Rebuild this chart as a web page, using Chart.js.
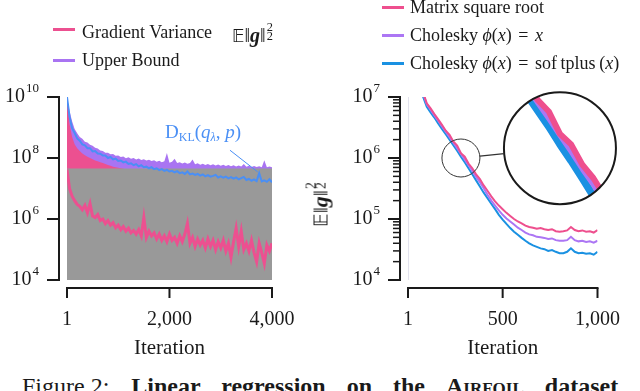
<!DOCTYPE html>
<html>
<head>
<meta charset="utf-8">
<script src="https://cdn.jsdelivr.net/npm/chart.js"></script>
<style>
  body { margin: 0; background: #fff; width: 640px; height: 391px; overflow: hidden; position: relative;
         font-family: 'Liberation Serif', 'DejaVu Serif', serif; color: #1a1a1a; }
  canvas { position: absolute; top: 0; }
  #left { left: 0; }
  #right { left: 320px; }
  .lg { position: absolute; font-size: 18px; line-height: 18px; white-space: nowrap; }
  .sw { position: absolute; width: 22px; height: 3px; }
  .ss { position: relative; display: inline-block; width: 0.5em; height: 1em; }
  .ss .up, .ss .dn { position: absolute; left: 0.08em; font-size: 0.62em; line-height: 1; }
  .ss .up { top: -0.08em; }
  .ss .dn { top: 0.68em; }
  .bb { font-family: 'DejaVu Sans', sans-serif; font-size: 0.85em; }
  .eq { margin: 0 2px; }
  #dkl { position: absolute; left: 165px; top: 121px; font-size: 19px; color: #4a8ff5; white-space: nowrap; }
  #ytitle { position: absolute; left: 319px; top: 203px; font-size: 22px; line-height: 22px; white-space: nowrap;
            transform: translate(-50%, -50%) rotate(-90deg); }
  #cap { position: absolute; left: 22px; top: 373px; font-size: 24px; white-space: nowrap; }
  #cap b { word-spacing: 15px; margin-left: 22px; }
</style>
</head>
<body>
<canvas id="left" width="320" height="365"></canvas>
<canvas id="right" width="320" height="365"></canvas>

<div class="sw" style="left:53px;top:28px;background:#ec5090"></div>
<div class="lg" style="left:82px;top:23px">Gradient Variance</div>
<div class="lg" style="left:232px;top:22px;font-size:20px"><span class="bb">𝔼</span>‖<b><i>g</i></b>‖<span class="ss"><span class="up">2</span><span class="dn">2</span></span></div>
<div class="sw" style="left:53px;top:59px;background:#a974f2"></div>
<div class="lg" style="left:82px;top:51px">Upper Bound</div>

<div class="sw" style="left:382px;top:6px;background:#ee4f8e"></div>
<div class="lg" style="left:410px;top:-2px">Matrix square root</div>
<div class="sw" style="left:382px;top:34px;background:#ac76f4"></div>
<div class="lg" style="left:410px;top:26px">Cholesky <i>ϕ</i>(<i>x</i>) <span class="eq">=</span> <i>x</i></div>
<div class="sw" style="left:382px;top:62px;background:#1a91e2"></div>
<div class="lg" style="left:410px;top:54px">Cholesky <i>ϕ</i>(<i>x</i>) <span class="eq">=</span> sof&thinsp;tplus&thinsp;(<i>x</i>)</div>

<div id="dkl">D<span style="font-size:12px;vertical-align:-3px">KL</span>(<i>q</i><span style="font-size:12px;vertical-align:-3px"><i>λ</i></span>, <i>p</i>)</div>
<div id="ytitle"><span class="bb">𝔼</span>‖<b><i>g</i></b>‖<span class="ss"><span class="up">2</span><span class="dn">2</span></span></div>
<div id="cap">Figure 2:<b>Linear regression on the <span style="font-variant:small-caps">Airfoil</span> dataset</b></div>

<script>
// ---------- left panel: gradient variance vs. iteration ----------
const iterLeft = [
  1, 50, 100, 150, 200, 250, 300, 350, 400, 450,
  500, 550, 600, 650, 700, 750, 800, 850, 900, 950,
  1000, 1050, 1100, 1150, 1200, 1250, 1300, 1350, 1400, 1450,
  1500, 1550, 1600, 1650, 1700, 1750, 1800, 1850, 1900, 1950,
  2000, 2050, 2100, 2150, 2200, 2250, 2300, 2350, 2400, 2450,
  2500, 2550, 2600, 2650, 2700, 2750, 2800, 2850, 2900, 2950,
  3000, 3050, 3100, 3150, 3200, 3250, 3300, 3350, 3400, 3450,
  3500, 3550, 3600, 3650, 3700, 3750, 3800, 3850, 3900, 3950,
  4000
];
const upperBound = [
  1e10, 3.5e9, 1.6e9, 9.0e8, 6.5e8, 4.9e8, 4.3e8, 3.4e8, 3.2e8, 2.7e8,
  2.5e8, 2.15e8, 2.05e8, 1.75e8, 1.7e8, 1.5e8, 1.5e8, 1.32e8, 1.35e8, 1.18e8,
  1.2e8, 1.08e8, 1.12e8, 9.9e7, 1.05e8, 9.4e7, 1.0e8, 9.0e7, 9.6e7, 8.6e7,
  9.1e7, 8.3e7, 8.8e7, 7.9e7, 8.4e7, 7.6e7, 8.1e7, 7.3e7, 7.8e7, 1.45e8,
  7.0e7, 7.5e7, 9.5e7, 6.8e7, 7.2e7, 6.6e7, 7.1e7, 6.5e7, 6.9e7, 9.0e7,
  6.2e7, 6.7e7, 6.0e7, 6.5e7, 5.9e7, 6.3e7, 5.8e7, 6.2e7, 5.7e7, 6.1e7,
  5.6e7, 6.0e7, 5.5e7, 5.9e7, 5.4e7, 5.8e7, 5.3e7, 5.7e7, 5.3e7, 6.4e7,
  5.2e7, 5.6e7, 5.1e7, 5.5e7, 5.1e7, 5.4e7, 5.0e7, 8.5e7, 5.0e7, 5.3e7,
  5.0e7
];
const gradVarTop = [
  1e10, 1.3e9, 5.0e8, 2.8e8, 2.1e8, 1.7e8, 1.4e8, 1.23e8, 1.1e8, 1.0e8,
  9.1e7, 8.3e7, 7.8e7, 7.2e7, 6.8e7, 6.3e7, 5.9e7, 5.6e7, 5.2e7, 5.0e7,
  4.8e7, 4.6e7, 4.4e7, 4.2e7, 4.0e7, 3.9e7, 3.8e7, 3.7e7, 3.6e7, 3.5e7,
  3.4e7, 3.3e7, 3.2e7, 3.1e7, 3.0e7, 2.95e7, 2.9e7, 2.85e7, 2.8e7, 2.75e7,
  2.7e7, 2.65e7, 2.6e7, 2.55e7, 2.5e7, 2.45e7, 2.4e7, 2.35e7, 2.3e7, 2.25e7,
  2.2e7, 2.18e7, 2.15e7, 2.12e7, 2.1e7, 2.08e7, 2.05e7, 2.02e7, 2.0e7, 1.98e7,
  1.95e7, 1.92e7, 1.9e7, 1.88e7, 1.85e7, 1.82e7, 1.8e7, 1.78e7, 1.75e7, 1.72e7,
  1.7e7, 1.68e7, 1.65e7, 1.63e7, 1.6e7, 1.58e7, 1.55e7, 1.53e7, 1.5e7, 1.48e7,
  1.45e7
];
const gradVarLow = [
  4.2e7, 1e7, 5.6e6, 4.0e6, 3.0e6, 2.6e6, 2.0e6, 2.8e6, 1.6e6, 3.2e6,
  1.26e6, 1.12e6, 1.4e6, 8.9e5, 1e6, 7.1e5, 8.9e5, 6.3e5, 7.6e5, 5.2e5,
  6.3e5, 4.5e5, 5.6e5, 4.0e5, 5.0e5, 3.5e5, 4.2e5, 3.2e5, 4.5e5, 2.8e5,
  1.12e6, 2.5e5, 4.0e5, 2.8e5, 3.5e5, 2.2e5, 3.2e5, 2.0e5, 2.8e5, 1.8e5,
  3.2e5, 2.0e5, 2.5e5, 1.6e5, 2.8e5, 1.8e5, 3.2e5, 7.1e5, 1.6e5, 2.5e5,
  1.26e5, 2.2e5, 1.4e5, 2.0e5, 1.12e5, 2.2e5, 1.26e5, 2.0e5, 1e5, 1.8e5,
  1.12e5, 2.0e5, 8.9e4, 1.6e5, 5.6e4, 1.8e5, 5.0e5, 1.26e5, 4.0e5, 1e5,
  1.6e5, 8.9e4, 2.0e5, 7.9e4, 4.0e4, 1.6e5, 7.9e4, 3.5e4, 1.4e5, 8.9e4,
  1.6e5
];
const klDiv = [
  1e10, 2.3e9, 9.5e8, 6.6e8, 4.4e8, 3.7e8, 2.8e8, 2.6e8, 2.1e8, 2.1e8,
  1.65e8, 1.7e8, 1.4e8, 1.38e8, 1.2e8, 1.2e8, 1.0e8, 1.08e8, 9.0e7, 9.6e7,
  8.0e7, 8.3e7, 7.2e7, 7.6e7, 6.4e7, 6.7e7, 5.8e7, 6.3e7, 5.3e7, 5.8e7,
  5.0e7, 5.2e7, 4.6e7, 5.0e7, 4.3e7, 4.6e7, 4.0e7, 4.3e7, 3.8e7, 4.1e7,
  3.6e7, 3.8e7, 3.4e7, 3.7e7, 3.2e7, 3.4e7, 3.0e7, 3.6e7, 2.9e7, 3.1e7,
  2.8e7, 3.0e7, 2.65e7, 2.9e7, 2.5e7, 2.75e7, 2.45e7, 2.6e7, 2.8e7, 2.3e7,
  2.5e7, 2.25e7, 2.45e7, 2.15e7, 2.35e7, 2.1e7, 2.3e7, 2.0e7, 2.2e7, 2.4e7,
  1.9e7, 2.05e7, 1.8e7, 2.0e7, 1.75e7, 3.2e7, 1.7e7, 1.85e7, 1.65e7, 2.0e7,
  1.6e7
];
const grayIter = [1, 4000];
const grayLevel = [4.5e7, 4.5e7];

const leftXTicks = [1, 2000, 4000];
const leftXLabels = ['1', '2,000', '4,000'];
const leftYTicks = [1e4, 1e6, 1e8, 1e10];
const leftYExp = ['4', '6', '8', '10'];

// ---------- right panel: three parametrisations ----------
const iterRight = [
  1, 20, 40, 60, 80, 100, 120, 140, 160, 180,
  200, 220, 240, 260, 280, 300, 320, 340, 360, 380,
  400, 420, 440, 460, 480, 500, 520, 540, 560, 580,
  600, 620, 640, 660, 680, 700, 720, 740, 760, 780,
  800, 820, 840, 860, 880, 900, 920, 940, 960, 980,
  1000
];
const matrixSqrt = [
  1e9, 1.6e8, 5e7, 2.24e7, 1.2e7, 7.9e6, 6.5e6, 5.25e6, 4.3e6, 3.5e6,
  2.8e6, 2.4e6, 1.86e6, 1.6e6, 1.2e6, 1.05e6, 8.1e5, 6.8e5, 5.4e5, 4.5e5,
  3.55e5, 2.9e5, 2.35e5, 1.95e5, 1.66e5, 1.45e5, 1.26e5, 1.12e5, 1.0e5, 9.1e4,
  8.5e4, 7.8e4, 7.4e4, 7.2e4, 6.9e4, 7.1e4, 6.8e4, 6.6e4, 6.8e4, 6.3e4,
  6.2e4, 6.3e4, 6.5e4, 7.4e4, 6.6e4, 6.3e4, 6.5e4, 6.2e4, 6.3e4, 6.0e4,
  6.6e4
];
const choleskyLinear = [
  1e9, 1.5e8, 4.8e7, 2.1e7, 1.15e7, 7.6e6, 6.2e6, 5.0e6, 4.1e6, 3.3e6,
  2.7e6, 2.2e6, 1.78e6, 1.45e6, 1.17e6, 9.5e5, 7.6e5, 6.2e5, 4.9e5, 4.0e5,
  3.2e5, 2.5e5, 2.0e5, 1.66e5, 1.38e5, 1.17e5, 1.02e5, 9.1e4, 8.1e4, 7.2e4,
  6.6e4, 6.0e4, 5.6e4, 5.4e4, 5.1e4, 5.0e4, 4.9e4, 4.7e4, 4.8e4, 4.5e4,
  4.4e4, 4.4e4, 4.5e4, 5.1e4, 4.5e4, 4.3e4, 4.4e4, 4.2e4, 4.3e4, 4.1e4,
  4.4e4
];
const choleskySoftplus = [
  1e9, 1.4e8, 4.4e7, 1.95e7, 1.02e7, 6.9e6, 5.6e6, 4.6e6, 3.7e6, 3.0e6,
  2.45e6, 2.0e6, 1.62e6, 1.32e6, 1.05e6, 8.5e5, 6.8e5, 5.4e5, 4.3e5, 3.4e5,
  2.7e5, 2.2e5, 1.78e5, 1.45e5, 1.17e5, 9.8e4, 8.3e4, 7.1e4, 6.2e4, 5.5e4,
  4.9e4, 4.4e4, 4.0e4, 3.7e4, 3.5e4, 3.3e4, 3.2e4, 3.0e4, 3.1e4, 2.9e4,
  2.75e4, 2.75e4, 2.9e4, 3.3e4, 2.9e4, 2.75e4, 2.8e4, 2.7e4, 2.75e4, 2.6e4,
  2.9e4
];
const rightXTicks = [1, 500, 1000];
const rightXLabels = ['1', '500', '1,000'];
const rightYTicks = [1e4, 1e5, 1e6, 1e7];
const rightYExp = ['4', '5', '6', '7'];
const minorSteps = [2, 3, 4, 5, 6, 7, 8, 9];

// zoom circle: source point and where the magnified copy sits
const zoomAt = [280, 1e6];
const insetAt = [802, 1.45e6];

const ink = '#1a1a1a';
const serif = 'Liberation Serif';
const pts = (xs, ys) => xs.map((x, i) => ({x: x, y: ys[i]}));

// spines offset from the data, matplotlib-style
const frameAxes = {
  id: 'frameAxes',
  afterDraw(chart, args, opts) {
    const {ctx, chartArea: a, scales: {x, y}} = chart;
    const gap = 8;
    ctx.save();
    ctx.strokeStyle = ink;
    ctx.lineWidth = 2;
    const sx = a.left - gap;
    const sy = a.bottom + gap;
    ctx.beginPath();
    ctx.moveTo(sx, y.getPixelForValue(y.max) - 1);
    ctx.lineTo(sx, y.getPixelForValue(y.min) + 1);
    ctx.moveTo(x.getPixelForValue(x.min) - 1, sy);
    ctx.lineTo(x.getPixelForValue(x.max) + 1, sy);
    ctx.stroke();
    y.ticks.forEach(t => {
      const py = y.getPixelForValue(t.value);
      ctx.lineWidth = t.major ? 2 : 1.5;
      ctx.beginPath();
      ctx.moveTo(sx, py);
      ctx.lineTo(sx - (t.major ? 12 : 7), py);
      ctx.stroke();
    });
    ctx.lineWidth = 2;
    x.ticks.forEach(t => {
      const px = x.getPixelForValue(t.value);
      ctx.beginPath();
      ctx.moveTo(px, sy);
      ctx.lineTo(px, sy + 10);
      ctx.stroke();
    });
    // y labels: 10 with a raised exponent
    ctx.fillStyle = ink;
    ctx.textBaseline = 'middle';
    ctx.textAlign = 'right';
    const right = sx - 20;
    opts.majors.forEach((v, i) => {
      const py = y.getPixelForValue(v);
      ctx.font = '13px "' + serif + '"';
      const e = opts.exps[i];
      const ew = ctx.measureText(e).width;
      ctx.fillText(e, right, py - 8);
      ctx.font = '20px "' + serif + '"';
      ctx.fillText('10', right - ew - 1, py);
    });
    ctx.restore();
  }
};

const leftExtras = {
  id: 'leftExtras',
  afterDatasetsDraw(chart) {
    const {ctx, scales: {x, y}} = chart;
    ctx.save();
    ctx.strokeStyle = '#4a8ff5';
    ctx.lineWidth = 1;
    ctx.beginPath();
    ctx.moveTo(x.getPixelForValue(3180), y.getPixelForValue(1.8e8));
    ctx.lineTo(x.getPixelForValue(3720), y.getPixelForValue(3.5e7));
    ctx.stroke();
    ctx.restore();
  }
};

const insetPlugin = {
  id: 'inset',
  beforeDatasetsDraw(chart) {
    const {ctx, chartArea: a} = chart;
    ctx.save();
    ctx.strokeStyle = '#e3e3ee';
    ctx.lineWidth = 1;
    ctx.beginPath();
    ctx.moveTo(a.left + 0.5, a.top);
    ctx.lineTo(a.left + 0.5, a.bottom);
    ctx.stroke();
    ctx.restore();
  },
  afterDatasetsDraw(chart) {
    const {ctx, scales: {x, y}} = chart;
    const sx = x.getPixelForValue(zoomAt[0]), sy = y.getPixelForValue(zoomAt[1]);
    const bx = x.getPixelForValue(insetAt[0]), by = y.getPixelForValue(insetAt[1]);
    const r = 19, R = 56, m = R / r;
    const widths = [6, 4.5, 7.5];
    ctx.save();
    ctx.beginPath();
    ctx.arc(bx, by, R, 0, Math.PI * 2);
    ctx.fillStyle = '#fff';
    ctx.fill();
    ctx.clip();
    ctx.translate(bx, by);
    ctx.scale(m, m);
    ctx.translate(-sx, -sy);
    [2, 1, 0].forEach(i => {
      const meta = chart.getDatasetMeta(i);
      ctx.strokeStyle = chart.data.datasets[i].borderColor;
      ctx.lineWidth = widths[i] / m;
      ctx.lineJoin = 'round';
      ctx.beginPath();
      meta.data.forEach((p, j) => j ? ctx.lineTo(p.x, p.y) : ctx.moveTo(p.x, p.y));
      ctx.stroke();
    });
    ctx.restore();

    ctx.save();
    ctx.strokeStyle = ink;
    ctx.lineWidth = 2;
    ctx.beginPath();
    ctx.arc(bx, by, R, 0, Math.PI * 2);
    ctx.stroke();
    ctx.lineWidth = 1;
    ctx.strokeStyle = '#333';
    ctx.beginPath();
    ctx.arc(sx, sy, r, 0, Math.PI * 2);
    ctx.stroke();
    const ang = Math.atan2(by - sy, bx - sx);
    ctx.lineWidth = 1.3;
    ctx.beginPath();
    ctx.moveTo(sx + r * Math.cos(ang), sy + r * Math.sin(ang));
    ctx.lineTo(bx - R * Math.cos(ang), by - R * Math.sin(ang));
    ctx.stroke();
    ctx.restore();
  }
};

function xScale(max, ticks, labels, fitH) {
  return {
    type: 'linear', min: 1, max: max,
    grid: {display: false}, border: {display: false},
    afterBuildTicks: s => { s.ticks = ticks.map(v => ({value: v})); },
    afterFit: s => { s.height = fitH; },
    ticks: {
      padding: 20, color: ink, font: {family: serif, size: 20},
      callback: (v, i) => labels[i]
    },
    title: {display: true, text: 'Iteration', color: ink, font: {family: serif, size: 21},
            padding: {top: 4, bottom: 4}}
  };
}
function yScale(min, max, tickVals, fitW) {
  return {
    type: 'logarithmic', min: min, max: max,
    grid: {display: false}, border: {display: false},
    afterBuildTicks: s => { s.ticks = tickVals.map(t => ({value: t.v, major: t.major})); },
    afterFit: s => { s.width = fitW; },
    ticks: {display: false}
  };
}

new Chart(document.getElementById('left').getContext('2d'), {
  type: 'line',
  data: {
    datasets: [
      {label: 'KL', data: pts(iterLeft, klDiv), borderColor: '#4a8ff5', borderWidth: 2, order: 1},
      {label: 'Gradient variance (low)', data: pts(iterLeft, gradVarLow), borderColor: '#ec5090', borderWidth: 3, order: 2},
      {label: 'gray', data: pts(grayIter, grayLevel), borderColor: 'rgba(0,0,0,0)', borderWidth: 0,
       backgroundColor: '#999999', fill: 'start', order: 3},
      {label: 'Gradient variance', data: pts(iterLeft, gradVarTop), borderColor: 'rgba(0,0,0,0)', borderWidth: 0,
       backgroundColor: '#ec5090', fill: 'start', order: 4},
      {label: 'Upper bound', data: pts(iterLeft, upperBound), borderColor: 'rgba(0,0,0,0)', borderWidth: 0,
       backgroundColor: '#a974f2', fill: 'start', order: 5}
    ]
  },
  options: {
    responsive: false, animation: false,
    elements: {point: {radius: 0}, line: {tension: 0}},
    layout: {padding: {top: 97, right: 48, left: 0, bottom: 0}},
    scales: {
      x: xScale(4000, leftXTicks, leftXLabels, 85),
      y: yScale(1e4, 1e10, leftYTicks.map(v => ({v: v, major: true})), 67)
    },
    plugins: {
      legend: {display: false}, tooltip: {enabled: false},
      frameAxes: {majors: leftYTicks, exps: leftYExp}
    }
  },
  plugins: [frameAxes, leftExtras]
});

const rightYTickVals = [];
rightYTicks.forEach((v, i) => {
  rightYTickVals.push({v: v, major: true});
  if (i < rightYTicks.length - 1) minorSteps.forEach(k => rightYTickVals.push({v: v * k, major: false}));
});

new Chart(document.getElementById('right').getContext('2d'), {
  type: 'line',
  data: {
    datasets: [
      {label: 'Matrix square root', data: pts(iterRight, matrixSqrt), borderColor: '#ee4f8e', borderWidth: 2},
      {label: 'Cholesky x', data: pts(iterRight, choleskyLinear), borderColor: '#ac76f4', borderWidth: 2},
      {label: 'Cholesky softplus', data: pts(iterRight, choleskySoftplus), borderColor: '#1a91e2', borderWidth: 2}
    ]
  },
  options: {
    responsive: false, animation: false,
    elements: {point: {radius: 0}, line: {tension: 0}},
    layout: {padding: {top: 97, right: 28, left: 0, bottom: 0}},
    scales: {
      x: xScale(1000, rightXTicks, rightXLabels, 85),
      y: yScale(1e4, 1e7, rightYTickVals, 88)
    },
    plugins: {
      legend: {display: false}, tooltip: {enabled: false},
      frameAxes: {majors: rightYTicks, exps: rightYExp}
    }
  },
  plugins: [frameAxes, insetPlugin]
});
</script>
</body>
</html>
